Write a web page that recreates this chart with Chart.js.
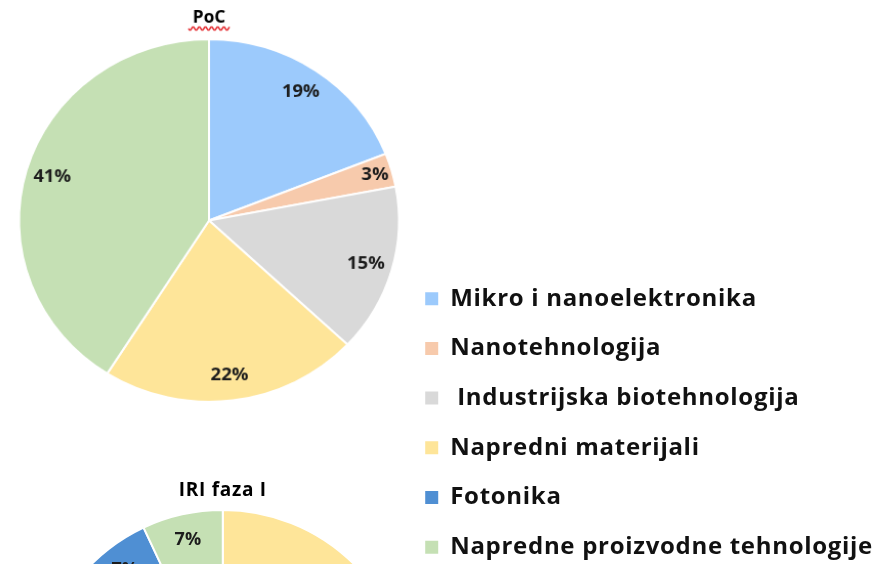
<!DOCTYPE html>
<html>
<head>
<meta charset="utf-8">
<script src="https://cdn.jsdelivr.net/npm/chart.js@4.4.1/dist/chart.umd.min.js"></script>
<style>
  html, body { margin: 0; padding: 0; background: #fff; }
  body { width: 879px; height: 564px; overflow: hidden; position: relative; }
  /* the source picture is a little stretched sideways */
  #pocBox { position: absolute; left: 0; top: 0; width: 418px; height: 410px;
            transform: scale(1.024, 0.977); transform-origin: 209px 220px; }
  #iriBox { position: absolute; left: 0; top: 260.6px; width: 883px; height: 621px; }
</style>
</head>
<body>
<div id="iriBox"><canvas id="iriChart"></canvas></div>
<div id="pocBox"><canvas id="pocChart"></canvas></div>
<script>
// ---- data ----
const categories = [
  "Mikro i nanoelektronika",
  "Nanotehnologija",
  " Industrijska biotehnologija",
  "Napredni materijali",
  "Fotonika",
  "Napredne proizvodne tehnologije"
];
const pocValues = [19, 3, 15, 22, 0, 41];
const iriValues = [0, 0, 0, 86, 7, 7];

const sliceColors = ["#9ccafc", "#f7caac", "#d9d9d9", "#fee599", "#4f8fd3", "#c5e0b4"];
const FONT = "'Open Sans', 'Liberation Sans', sans-serif";

// percent labels inside the slices
const pieLabels = {
  id: "pieLabels",
  afterDatasetsDraw(chart) {
    const ctx = chart.ctx;
    const data = chart.data.datasets[0].data;
    const total = data.reduce((a, b) => a + b, 0);
    ctx.save();
    ctx.letterSpacing = "0px";
    ctx.font = "bold 18px " + FONT;
    ctx.fillStyle = "#1c1c1c";
    ctx.textAlign = "center";
    ctx.textBaseline = "middle";
    chart.getDatasetMeta(0).data.forEach((arc, i) => {
      if (!data[i]) return;
      const p = arc.getProps(["x", "y", "startAngle", "endAngle", "outerRadius"], true);
      const mid = (p.startAngle + p.endAngle) / 2;
      const pct = data[i] / total * 100;
      const r = p.outerRadius * (pct < 5 ? 0.91 : 0.86);
      ctx.fillText(Math.round(pct) + "%", p.x + Math.cos(mid) * r, p.y + Math.sin(mid) * r);
    });
    ctx.restore();
  }
};

// red spell-check squiggle under the "PoC" title
const squiggle = {
  id: "squiggle",
  afterDraw(chart) {
    const t = chart.titleBlock;
    const ctx = chart.ctx;
    ctx.save();
    ctx.font = "bold 17px " + FONT;
    const w = ctx.measureText(t.options.text).width;
    const cx = (t.left + t.right) / 2;
    const x0 = cx - w / 2 - 4, x1 = cx + w / 2 + 4;
    const y = 24;
    ctx.strokeStyle = "#e3262b";
    ctx.lineWidth = 1.4;
    ctx.beginPath();
    for (let x = x0; x <= x1; x += 1) {
      const yy = y + 1.8 * Math.sin((x - x0) / 6 * Math.PI * 2);
      if (x === x0) ctx.moveTo(x, yy); else ctx.lineTo(x, yy);
    }
    ctx.stroke();
    ctx.restore();
  }
};

// the legend text in the source is set wide
const wideText = {
  id: "wideText",
  beforeLayout(chart) { chart.ctx.letterSpacing = "0.7px"; }
};

new Chart(document.getElementById("pocChart"), {
  type: "pie",
  data: {
    labels: categories,
    datasets: [{
      data: pocValues,
      backgroundColor: sliceColors,
      borderColor: "#ffffff",
      borderWidth: 2
    }]
  },
  options: {
    responsive: true,
    maintainAspectRatio: false,
    animation: false,
    layout: { padding: { bottom: 3 } },
    plugins: {
      legend: { display: false },
      tooltip: { enabled: false },
      title: {
        display: true,
        text: "PoC",
        color: "#000",
        font: { family: FONT, size: 17, weight: "bold" },
        padding: { top: 3, bottom: 10.6 }
      }
    }
  },
  plugins: [pieLabels, squiggle]
});

new Chart(document.getElementById("iriChart"), {
  type: "pie",
  data: {
    labels: categories,
    datasets: [{
      data: iriValues,
      backgroundColor: sliceColors,
      borderColor: "#ffffff",
      borderWidth: 2,
      radius: 186
    }]
  },
  options: {
    responsive: true,
    maintainAspectRatio: false,
    animation: false,
    layout: { padding: { left: 46 } },
    plugins: {
      tooltip: { enabled: false },
      legend: {
        position: "right",
        align: "start",
        maxWidth: 700,
        labels: {
          boxWidth: 13,
          boxHeight: 13,
          padding: 25.7,
          color: "#111",
          font: { family: FONT, size: 24, weight: "bold" },
          generateLabels: () => categories.map((c, i) => ({
            text: c,
            fillStyle: sliceColors[i],
            strokeStyle: sliceColors[i],
            lineWidth: 0,
            fontColor: "#111",
            hidden: false,
            index: i
          }))
        }
      },
      title: {
        display: true,
        fullSize: false,
        text: "IRI faza I",
        color: "#000",
        font: { family: FONT, size: 19, weight: "bold" },
        padding: { top: 218, bottom: 8 }
      }
    }
  },
  plugins: [wideText, pieLabels]
});
</script>
</body>
</html>
